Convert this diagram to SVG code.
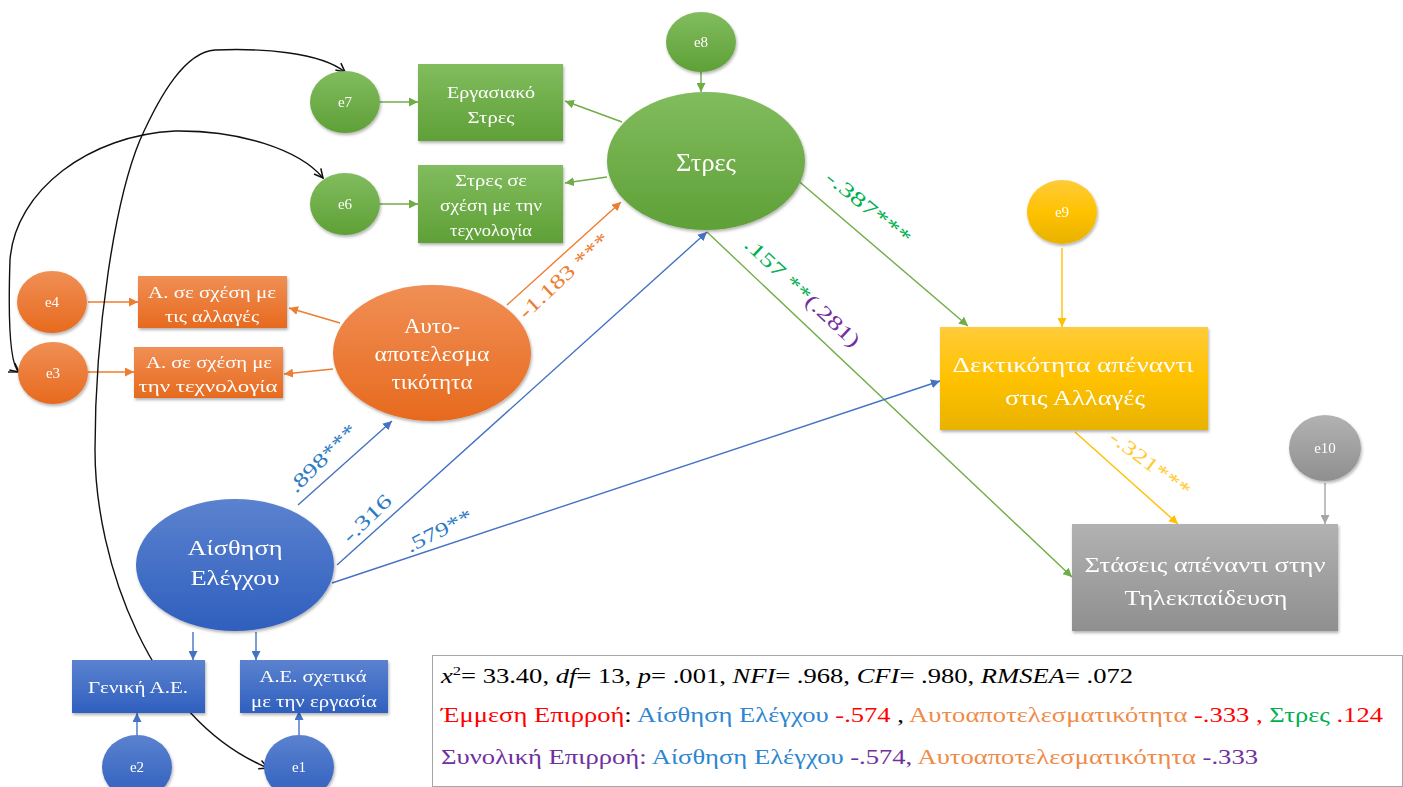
<svg xmlns="http://www.w3.org/2000/svg" width="1403" height="787" viewBox="0 0 1403 787" font-family="Liberation Serif, DejaVu Serif, Times New Roman, serif">
<style>
text{font-family:Liberation Serif,DejaVu Serif,Times New Roman,serif}
.nt{fill:#fff;text-anchor:middle}
.lbl{font-size:20px}
.g{stroke:#70AD47}.o{stroke:#ED7D31}.b{stroke:#4472C4}.y{stroke:#FFC000}.k{stroke:#A5A5A5}
.c line{stroke-width:1.4;fill:none}
.cov{stroke:#111;stroke-width:1.4;fill:none}
</style>
<defs>
<filter id="sh" x="-20%" y="-20%" width="140%" height="150%"><feDropShadow dx="1" dy="2" stdDeviation="1.5" flood-color="#000" flood-opacity="0.3"/></filter>
<linearGradient id="gG" x1="0" y1="0" x2="0" y2="1"><stop offset="0" stop-color="#81BC5E"/><stop offset="1" stop-color="#5FA037"/></linearGradient>
<linearGradient id="gO" x1="0" y1="0" x2="0" y2="1"><stop offset="0" stop-color="#F08F55"/><stop offset="1" stop-color="#E76A1E"/></linearGradient>
<linearGradient id="gB" x1="0" y1="0" x2="0" y2="1"><stop offset="0" stop-color="#5B82CF"/><stop offset="1" stop-color="#2F5FBE"/></linearGradient>
<linearGradient id="gY" x1="0" y1="0" x2="0" y2="1"><stop offset="0" stop-color="#FFCB3A"/><stop offset="0.5" stop-color="#FFC200"/><stop offset="1" stop-color="#E8B200"/></linearGradient>
<linearGradient id="gK" x1="0" y1="0" x2="0" y2="1"><stop offset="0" stop-color="#B2B2B2"/><stop offset="1" stop-color="#8F8F8F"/></linearGradient>
<marker id="aG" viewBox="0 0 10 10" refX="10" refY="5" markerWidth="9" markerHeight="9" markerUnits="userSpaceOnUse" orient="auto"><path d="M0,0 L10,5 L0,10 z" fill="#70AD47"/></marker>
<marker id="aO" viewBox="0 0 10 10" refX="10" refY="5" markerWidth="9" markerHeight="9" markerUnits="userSpaceOnUse" orient="auto"><path d="M0,0 L10,5 L0,10 z" fill="#ED7D31"/></marker>
<marker id="aB" viewBox="0 0 10 10" refX="10" refY="5" markerWidth="9" markerHeight="9" markerUnits="userSpaceOnUse" orient="auto"><path d="M0,0 L10,5 L0,10 z" fill="#4472C4"/></marker>
<marker id="aY" viewBox="0 0 10 10" refX="10" refY="5" markerWidth="9" markerHeight="9" markerUnits="userSpaceOnUse" orient="auto"><path d="M0,0 L10,5 L0,10 z" fill="#FFC000"/></marker>
<marker id="aK" viewBox="0 0 10 10" refX="10" refY="5" markerWidth="9" markerHeight="9" markerUnits="userSpaceOnUse" orient="auto"><path d="M0,0 L10,5 L0,10 z" fill="#A5A5A5"/></marker>
<marker id="aV" viewBox="0 0 10 10" refX="9" refY="5" markerWidth="11" markerHeight="11" markerUnits="userSpaceOnUse" orient="auto-start-reverse"><path d="M1,1 L9,5 L1,9" fill="none" stroke="#111" stroke-width="1.4"/></marker>
</defs>

<g id="connectors" class="c">
<line class="g" x1="380" y1="102" x2="418" y2="102" marker-end="url(#aG)"/>
<line class="g" x1="380" y1="204" x2="418" y2="204" marker-end="url(#aG)"/>
<line class="g" x1="622" y1="122" x2="565" y2="101" marker-end="url(#aG)"/>
<line class="g" x1="607" y1="177" x2="565" y2="183" marker-end="url(#aG)"/>
<line class="g" x1="701" y1="72" x2="701" y2="92" marker-end="url(#aG)"/>
<line class="g" x1="795" y1="178" x2="968" y2="326" marker-end="url(#aG)"/>
<line class="g" x1="707" y1="232" x2="1072" y2="577" marker-end="url(#aG)"/>
<line class="o" x1="88" y1="302" x2="138" y2="302" marker-end="url(#aO)"/>
<line class="o" x1="88" y1="372" x2="134" y2="372" marker-end="url(#aO)"/>
<line class="o" x1="340" y1="323" x2="289" y2="308" marker-end="url(#aO)"/>
<line class="o" x1="333" y1="369" x2="284" y2="374" marker-end="url(#aO)"/>
<line class="o" x1="507" y1="305" x2="621" y2="202" marker-end="url(#aO)"/>
<line class="b" x1="298" y1="505" x2="392" y2="421" marker-end="url(#aB)"/>
<line class="b" x1="337" y1="565" x2="707" y2="232" marker-end="url(#aB)"/>
<line class="b" x1="332" y1="583" x2="940" y2="381" marker-end="url(#aB)"/>
<line class="b" x1="193" y1="632" x2="193" y2="660" marker-end="url(#aB)"/>
<line class="b" x1="256" y1="632" x2="256" y2="660" marker-end="url(#aB)"/>
<line class="b" x1="137" y1="735" x2="137" y2="713" marker-end="url(#aB)"/>
<line class="b" x1="299" y1="735" x2="299" y2="711" marker-end="url(#aB)"/>
<line class="y" x1="1062" y1="248" x2="1062" y2="327" marker-end="url(#aY)"/>
<line class="y" x1="1075" y1="432" x2="1178" y2="524" marker-end="url(#aY)"/>
<line class="k" x1="1325" y1="483" x2="1325" y2="524" marker-end="url(#aK)"/>
<path class="cov" d="M345,72 C320,52 260,48 215,50 C185,52 160,95 140,140 C115,200 95,330 95,450 C95,560 150,720 268,768" marker-start="url(#aV)" marker-end="url(#aV)"/>
<path class="cov" d="M323,178 C300,150 240,130 175,131 C90,135 15,190 10,260 C8,320 10,365 19,372" marker-start="url(#aV)" marker-end="url(#aV)"/>
<path class="cov" d="M8,372 L19,372"/>
</g>

<g id="labels" class="lbl">
<text transform="translate(296,494) rotate(-45)" fill="#2E7BC4" textLength="88" lengthAdjust="spacingAndGlyphs">.898***</text>
<text transform="translate(350,544) rotate(-44)" fill="#2E7BC4" textLength="60" lengthAdjust="spacingAndGlyphs">-.316</text>
<text transform="translate(410,553) rotate(-27)" fill="#2E7BC4" textLength="72" lengthAdjust="spacingAndGlyphs">.579**</text>
<text transform="translate(526,320) rotate(-43)" fill="#ED7D31" textLength="116" lengthAdjust="spacingAndGlyphs">-1.183 ***</text>
<text transform="translate(824,180) rotate(39)" fill="#00B050" textLength="104" lengthAdjust="spacingAndGlyphs">-.387***</text>
<text transform="translate(743,246) rotate(43)" textLength="150" lengthAdjust="spacingAndGlyphs"><tspan fill="#00B050">.157 **</tspan><tspan fill="#7030A0">(.281)</tspan></text>
<text transform="translate(1108,440) rotate(37)" fill="#FFCC33" textLength="96" lengthAdjust="spacingAndGlyphs">-.321***</text>
</g>

<g id="e7" filter="url(#sh)"><ellipse cx="345" cy="102" rx="35" ry="31" fill="url(#gG)"/><text class="nt" x="345" y="107" font-size="15">e7</text></g>
<g id="e6" filter="url(#sh)"><ellipse cx="345" cy="204" rx="35" ry="31" fill="url(#gG)"/><text class="nt" x="345" y="209" font-size="15">e6</text></g>
<g id="e8" filter="url(#sh)"><ellipse cx="701" cy="42" rx="35" ry="30" fill="url(#gG)"/><text class="nt" x="701" y="47" font-size="15">e8</text></g>
<g id="ergasiako" filter="url(#sh)"><rect x="418" y="64" width="145" height="77" fill="url(#gG)"/><text class="nt" font-size="17"><tspan x="491" y="98" textLength="88" lengthAdjust="spacingAndGlyphs">Εργασιακό</tspan><tspan x="491" y="123" textLength="47" lengthAdjust="spacingAndGlyphs">Στρες</tspan></text></g>
<g id="stres-tech" filter="url(#sh)"><rect x="418" y="165" width="145" height="78" fill="url(#gG)"/><text class="nt" font-size="17"><tspan x="491" y="186" textLength="72" lengthAdjust="spacingAndGlyphs">Στρες σε</tspan><tspan x="491" y="211" textLength="102" lengthAdjust="spacingAndGlyphs">σχέση με την</tspan><tspan x="491" y="236" textLength="82" lengthAdjust="spacingAndGlyphs">τεχνολογία</tspan></text></g>
<g id="stres" filter="url(#sh)"><ellipse cx="706" cy="161" rx="99" ry="69" fill="url(#gG)"/><text class="nt" x="706" y="171" font-size="25" textLength="60" lengthAdjust="spacingAndGlyphs">Στρες</text></g>

<g id="e4" filter="url(#sh)"><ellipse cx="52" cy="302" rx="35" ry="31" fill="url(#gO)"/><text class="nt" x="52" y="307" font-size="15">e4</text></g>
<g id="e3" filter="url(#sh)"><ellipse cx="53" cy="373" rx="35" ry="31" fill="url(#gO)"/><text class="nt" x="53" y="378" font-size="15">e3</text></g>
<g id="a-allages" filter="url(#sh)"><rect x="138" y="276" width="149" height="52" fill="url(#gO)"/><text class="nt" font-size="17"><tspan x="212" y="298" textLength="128" lengthAdjust="spacingAndGlyphs">Α. σε σχέση με</tspan><tspan x="212" y="322" textLength="94" lengthAdjust="spacingAndGlyphs">τις αλλαγές</tspan></text></g>
<g id="a-tech" filter="url(#sh)"><rect x="134" y="347" width="149" height="51" fill="url(#gO)"/><text class="nt" font-size="17"><tspan x="209" y="368" textLength="126" lengthAdjust="spacingAndGlyphs">Α. σε σχέση με</tspan><tspan x="208" y="392" textLength="139" lengthAdjust="spacingAndGlyphs">την τεχνολογία</tspan></text></g>
<g id="auto" filter="url(#sh)"><ellipse cx="432" cy="353" rx="99" ry="68" fill="url(#gO)"/><text class="nt" font-size="20"><tspan x="432" y="333" textLength="56" lengthAdjust="spacingAndGlyphs">Αυτο-</tspan><tspan x="432" y="361" textLength="115" lengthAdjust="spacingAndGlyphs">αποτελεσμα</tspan><tspan x="432" y="389" textLength="81" lengthAdjust="spacingAndGlyphs">τικότητα</tspan></text></g>

<g id="aisthisi" filter="url(#sh)"><ellipse cx="235" cy="565" rx="99" ry="66" fill="url(#gB)"/><text class="nt" font-size="22"><tspan x="235" y="555" textLength="95" lengthAdjust="spacingAndGlyphs">Αίσθηση</tspan><tspan x="235" y="585" textLength="89" lengthAdjust="spacingAndGlyphs">Ελέγχου</tspan></text></g>
<g id="geniki" filter="url(#sh)"><rect x="72" y="660" width="133" height="53" fill="url(#gB)"/><text class="nt" x="138" y="693" font-size="17" textLength="100" lengthAdjust="spacingAndGlyphs">Γενική Α.Ε.</text></g>
<g id="ae-ergasia" filter="url(#sh)"><rect x="240" y="660" width="148" height="53" fill="url(#gB)"/><text class="nt" font-size="17"><tspan x="313" y="682" textLength="107" lengthAdjust="spacingAndGlyphs">Α.Ε. σχετικά</tspan><tspan x="314" y="707" textLength="126" lengthAdjust="spacingAndGlyphs">με την εργασία</tspan></text></g>
<g id="e2" filter="url(#sh)"><ellipse cx="137" cy="767" rx="35" ry="32" fill="url(#gB)"/><text class="nt" x="137" y="772" font-size="15">e2</text></g>
<g id="e1" filter="url(#sh)"><ellipse cx="299" cy="767" rx="35" ry="32" fill="url(#gB)"/><text class="nt" x="299" y="772" font-size="15">e1</text></g>

<g id="e9" filter="url(#sh)"><ellipse cx="1062" cy="212" rx="35" ry="32" fill="url(#gY)"/><text class="nt" x="1062" y="217" font-size="15">e9</text></g>
<g id="dektikotita" filter="url(#sh)"><rect x="940" y="327" width="268" height="103" fill="url(#gY)"/><text class="nt" font-size="22"><tspan x="1073" y="372" textLength="241" lengthAdjust="spacingAndGlyphs">Δεκτικότητα απέναντι</tspan><tspan x="1075" y="405" textLength="140" lengthAdjust="spacingAndGlyphs">στις Αλλαγές</tspan></text></g>
<g id="e10" filter="url(#sh)"><ellipse cx="1325" cy="448" rx="36" ry="33" fill="url(#gK)"/><text class="nt" x="1325" y="453" font-size="15">e10</text></g>
<g id="staseis" filter="url(#sh)"><rect x="1072" y="524" width="266" height="107" fill="url(#gK)"/><text class="nt" font-size="22" fill="#f4f4f4"><tspan x="1205" y="572" textLength="241" lengthAdjust="spacingAndGlyphs">Στάσεις απέναντι στην</tspan><tspan x="1206" y="605" textLength="163" lengthAdjust="spacingAndGlyphs">Τηλεκπαίδευση</tspan></text></g>

<g id="fit-box">
<rect x="432.5" y="655.5" width="970" height="131" fill="#fff" stroke="#A6A6A6" stroke-width="1"/>
<text x="441" y="683" font-size="21" fill="#000" textLength="692" lengthAdjust="spacingAndGlyphs"><tspan font-style="italic">x</tspan><tspan font-size="13" dy="-8">2</tspan><tspan dy="8">= 33.40, </tspan><tspan font-style="italic">df</tspan>= 13, <tspan font-style="italic">p</tspan>= .001, <tspan font-style="italic">NFI</tspan>= .968, <tspan font-style="italic">CFI</tspan>= .980, <tspan font-style="italic">RMSEA</tspan>= .072</text>
<text x="441" y="722" font-size="21" textLength="942" lengthAdjust="spacingAndGlyphs"><tspan fill="#FF0000">Έμμεση Επιρροή</tspan><tspan fill="#000">: </tspan><tspan fill="#2E86D0">Αίσθηση Ελέγχου</tspan><tspan fill="#FF0000"> -.574 </tspan><tspan fill="#000">, </tspan><tspan fill="#F08A48">Αυτοαποτελεσματικότητα</tspan><tspan fill="#FF0000"> -.333 , </tspan><tspan fill="#00B050">Στρες</tspan><tspan fill="#FF0000"> .124</tspan></text>
<text x="441" y="764" font-size="21" textLength="817" lengthAdjust="spacingAndGlyphs"><tspan fill="#7030A0">Συνολική Επιρροή: </tspan><tspan fill="#2E86D0">Αίσθηση Ελέγχου</tspan><tspan fill="#7030A0"> -.574,</tspan><tspan fill="#F08A48"> Αυτοαποτελεσματικότητα</tspan><tspan fill="#7030A0"> -.333</tspan></text>
</g>
</svg>
